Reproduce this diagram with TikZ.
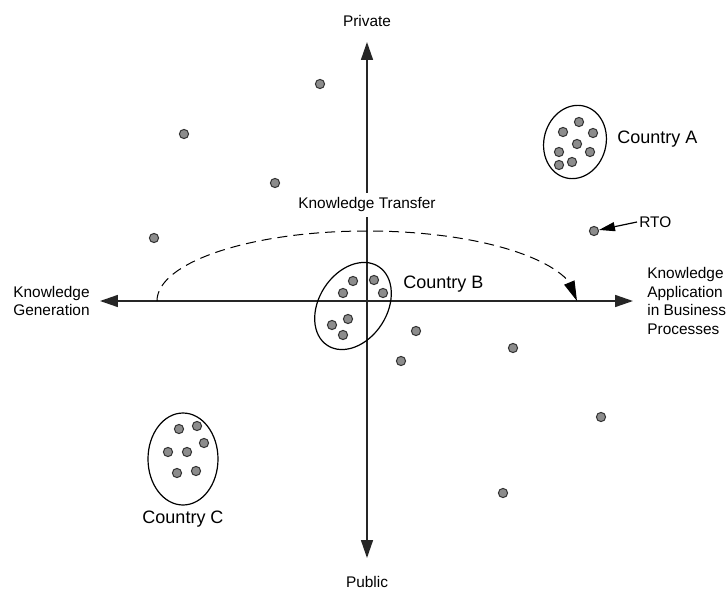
\documentclass[tikz,border=0pt]{standalone}
\usepackage{fontspec}
\setmainfont{Liberation Sans}
\usetikzlibrary{shapes,positioning,arrows.meta,bending}

\begin{document}
\begin{tikzpicture}[x=0.5pt, y=0.5pt, font=\fontsize{7.7}{9.3}\selectfont,
	axis/.style={line width=0.8pt, draw=black!85, {Triangle[length=9pt,width=6pt]}-{Triangle[length=9pt,width=6pt]}},
	actor/.style={circle, fill=black!45, draw=black!80, line width=0.5pt, minimum size=4.6pt, inner sep=0pt},
	country/.style={ellipse, draw, line width=0.6pt, inner sep=0pt},
	countrylabel/.style={font=\fontsize{9}{11}\selectfont, inner sep=1pt},
	axislabel/.style={inner sep=1pt, align=left}]

\useasboundingbox (-367,-288) rectangle (361,301);

%--assi e relative etichette
\coordinate (xleft) at (-267,0);
\coordinate (xright) at (266,0);
\coordinate (ybottom) at (0,-257);
\coordinate (ytop) at (0,259);
\draw[axis] (xleft) -- (xright);
\draw[axis] (ybottom) -- (ytop);

\node [axislabel, above=6.5pt of ytop] (private) {Private};
\node [axislabel, below=8pt of ybottom] (public) {Public};
\node [axislabel, left=4pt of xleft] (generation) {Knowledge\\Generation};
\node [axislabel, right=6pt of xright] (application) {Knowledge\\Application\\in Business\\Processes};

%--trasferimento di conoscenza
\node [fill=white, inner sep=2.5pt] (transfer) at (0,96) {Knowledge Transfer};
\coordinate (transferstart) at (-210,0);
\draw[line width=0.5pt, dash pattern=on 5pt off 3pt, -{Triangle[length=10pt,width=5.5pt,flex]}] (transferstart) arc[start angle=180, end angle=0, x radius=210, y radius=70];

%--attori sparsi
\foreach \x/\y [count=\i] in {-47/217, -183/167, -92/118, -213/63, 49/-30, 34/-60, 146/-47, 234/-116, 136/-192}
	\node [actor] (actor\i) at (\x,\y) {};

%--figura relativa all'RTO
\node [actor] (rto) at (227,70) {};
\node [inner sep=1pt, anchor=west] (rtolabel) at (270,79) {RTO};
\draw[line width=0.6pt, -{Triangle[length=8pt,width=4.5pt]}] (rtolabel.west) -- (rto);

%--figura relativa al paese A
\node [country, minimum width=31pt, minimum height=37pt, rotate=-15] (countryA) at (208,159) {};
\foreach \x/\y [count=\i] in {212/179, 196/169, 226/168, 210/157, 192/149, 223/149, 192/136, 205/139}
	\node [actor] (a\i) at (\x,\y) {};
\node [countrylabel, anchor=base west] (countryAlabel) at (248,157) {Country A};

%--figura relativa al paese B
\node [country, minimum width=34pt, minimum height=47pt, rotate=-33] (countryB) at (-14,-5) {};
\foreach \x/\y [count=\i] in {-14/20, 7/21, -24/8, 16/8, -19/-18, -35/-24, -24/-34}
	\node [actor] (b\i) at (\x,\y) {};
\node [countrylabel, anchor=base west] (countryBlabel) at (34,13) {Country B};

%--figura relativa al paese C
\node [country, minimum width=35pt, minimum height=46pt] (countryC) at (-184,-158) {};
\foreach \x/\y [count=\i] in {-188/-128, -170/-125, -163/-142, -199/-151, -180/-151, -190/-172, -171/-170}
	\node [actor] (c\i) at (\x,\y) {};
\node [countrylabel, below=1.5pt of countryC] (countryClabel) {Country C};

\end{tikzpicture}
\end{document}
